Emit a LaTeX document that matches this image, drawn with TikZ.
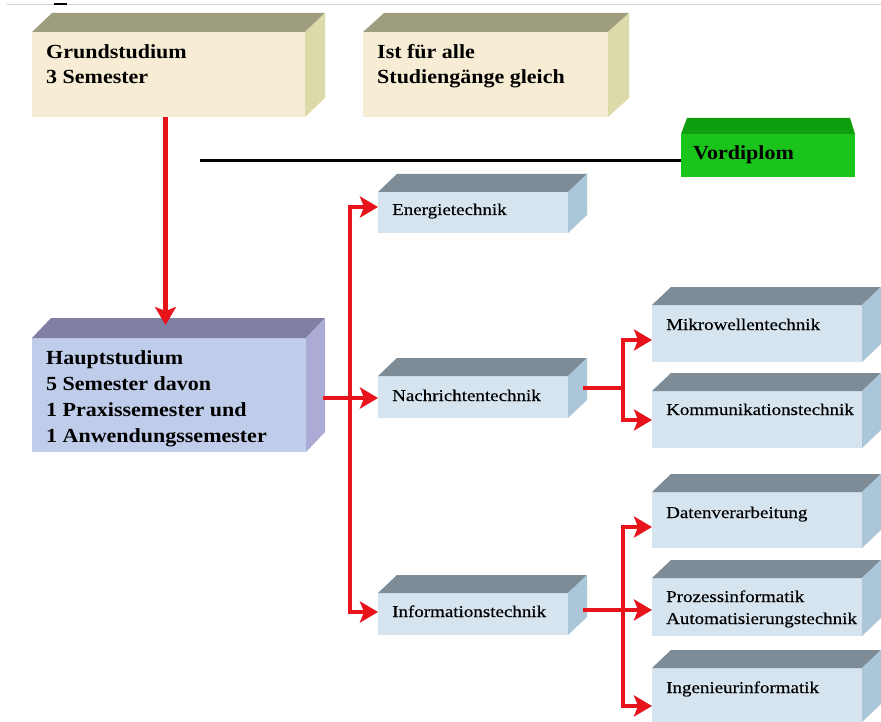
\documentclass[tikz,border=0pt]{standalone}
\usepackage{fontspec}
\usetikzlibrary{arrows.meta,calc}
\newfontfamily\titlefont[FakeStretch=1.1]{Liberation Serif}
\newfontfamily\subfont[FakeStretch=1.15,FakeBold=0.35]{Liberation Serif}
\definecolor{beigeF}{HTML}{F6EDD4}
\definecolor{beigeT}{HTML}{9F9D7F}
\definecolor{beigeS}{HTML}{DCDAA8}
\definecolor{hauptF}{HTML}{C0CDEA}
\definecolor{hauptT}{HTML}{7F80A3}
\definecolor{hauptS}{HTML}{ABABD5}
\definecolor{subF}{HTML}{D6E4EF}
\definecolor{subT}{HTML}{7D8C97}
\definecolor{subS}{HTML}{ABC6D9}
\definecolor{greenF}{HTML}{1BC41B}
\definecolor{greenT}{HTML}{0E9E0E}
\definecolor{arrowred}{HTML}{E8141C}
\newcommand{\boxfaces}[5]{% name, dx, dy, top, side
  \fill[#4] (#1.north west) -- ++(#2,-#3) -- ($(#1.north east)+(#2,-#3)$) -- (#1.north east) -- cycle;
  \fill[#5] (#1.north east) -- ++(#2,-#3) -- ($(#1.south east)+(#2,-#3)$) -- (#1.south east) -- cycle;}
\tikzset{
  front/.style={rectangle, draw=none, inner sep=0pt, outer sep=0pt, anchor=north west},
  titletext/.style={anchor=base west, inner sep=0pt, align=left, font=\titlefont\bfseries\fontsize{20}{25.7}\selectfont, text=black},
  subtext/.style={anchor=base west, inner sep=0pt, align=left, font=\subfont\fontsize{16.5}{22}\selectfont, text=black},
  rline/.style={draw=arrowred, line width=4.2pt, line join=miter},
  rarrow/.style={rline, -{Stealth[length=18pt,width=21pt,inset=4pt]}},
  rboth/.style={rline, {Stealth[length=18pt,width=21pt,inset=4pt]}-{Stealth[length=18pt,width=21pt,inset=4pt]}}
}
\begin{document}
\begin{tikzpicture}[x=1pt,y=-1pt]
\useasboundingbox (0,0) rectangle (881,722);
\fill[white] (0,0) rectangle (881,722);
% top rule
\coordinate (r1) at (7,5);
\coordinate (r2) at (881,5);
\draw[draw=black!18, line width=1pt] (r1) -- (r2);
\coordinate (d1) at (54,4.5);
\coordinate (d2) at (67,4.5);
\draw[black, line width=2pt] (d1) -- (d2);

% boxes
\node[front, fill=beigeF, minimum width=273pt, minimum height=85pt] (grund) at (32,32) {};
\boxfaces{grund}{20}{19}{beigeT}{beigeS}
\node[front, fill=beigeF, minimum width=245pt, minimum height=85pt] (ist) at (363,32) {};
\boxfaces{ist}{21}{19}{beigeT}{beigeS}
\node[front, fill=hauptF, minimum width=274pt, minimum height=114pt] (haupt) at (32,338) {};
\boxfaces{haupt}{19}{20}{hauptT}{hauptS}

\node[front, fill=greenF, minimum width=174pt, minimum height=43pt] (vord) at (681,134) {};
\fill[greenT] (vord.north west) -- ++(6,-16) -- ($(vord.north east)+(-5,-16)$) -- (vord.north east) -- cycle;

\foreach \n/\x/\y/\w/\h in {energ/378/192/190/41, nach/378/376/190/42, it/378/593/190/42,
  mikro/652/305/210/57, komm/652/391/210/57, daten/652/492/210/56, proz/652/578/210/58, ing/652/668/210/54}{
  \node[front, fill=subF, minimum width=\w pt, minimum height=\h pt] (\n) at (\x,\y) {};
  \boxfaces{\n}{19}{18}{subT}{subS}
}

% texts (multi-line nodes: base = last line)
\node[titletext] (grundT) at (46,84) {Grundstudium\\3 Semester};
\node[titletext] (istT) at (377,84) {Ist für alle\\Studiengänge gleich};
\node[titletext] (vordT) at (693,160) {Vordiplom};
\node[titletext] (hauptT) at (46,442) {Hauptstudium\\5 Semester davon\\1 Praxissemester und\\1 Anwendungssemester};
\node[subtext] (energT) at (392,215) {Energietechnik};
\node[subtext] (nachT) at (392,401) {Nachrichtentechnik};
\node[subtext] (itT) at (392,617) {Informationstechnik};
\node[subtext] (mikroT) at (666,330) {Mikrowellentechnik};
\node[subtext] (kommT) at (666,415) {Kommunikationstechnik};
\node[subtext] (datenT) at (666,518) {Datenverarbeitung};
\node[subtext] (prozT) at (666,624) {Prozessinformatik\\Automatisierungstechnik};
\node[subtext] (ingT) at (666,693) {Ingenieurinformatik};

% Vordiplom line
\coordinate (vl) at (200,161);
\draw[black, line width=3pt] (vl) -- (vl -| vord.west);

% red connectors
\coordinate (gs) at ([xshift=-3pt]grund.south);
\draw[rarrow] (gs) -- ([yshift=13pt]gs |- haupt.north);

\coordinate (aE) at (350,207);
\coordinate (aIt) at (350,612);
\coordinate (hOut) at (323,398);
\draw[rboth] (aE -| energ.west) -- (aE) -- (aIt) -- (aIt -| it.west);
\draw[rarrow] (hOut) -- (hOut -| nach.west);

\coordinate (aM) at (623,340);
\coordinate (aK) at (623,420);
\coordinate (nOut) at (583,388);
\draw[rboth] (aM -| mikro.west) -- (aM) -- (aK) -- (aK -| komm.west);
\draw[rline] (nOut) -- (nOut -| aM);

\coordinate (aD) at (623,527);
\coordinate (aI) at (623,706);
\coordinate (iOut) at (583,610);
\draw[rboth] (aD -| daten.west) -- (aD) -- (aI) -- (aI -| ing.west);
\draw[rarrow] (iOut) -- (iOut -| proz.west);
\end{tikzpicture}
\end{document}
